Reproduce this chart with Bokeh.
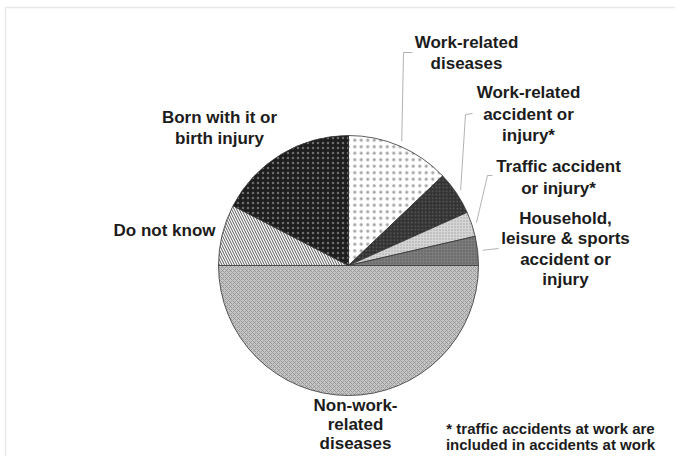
import math
from bokeh.plotting import figure
from bokeh.models import Range1d, ColumnDataSource
from bokeh.core.properties import value
from bokeh.embed import file_html
from bokeh.resources import INLINE

# ---- data (percent shares, clockwise from 12 o'clock) ----
categories = ["Work-related diseases", "Work-related accident or injury*",
              "Traffic accident or injury*", "Household, leisure & sports accident or injury",
              "Non-work-related diseases", "Do not know", "Born with it or birth injury"]
shares = [12.9, 5.4, 3.1, 3.6, 50.0, 7.6, 17.4]
label_texts = ["Work-related\ndiseases", "Work-related\naccident or\ninjury*",
               "Traffic accident\nor injury*", "Household,\nleisure & sports\naccident or\ninjury",
               "Non-work-\nrelated\ndiseases", "Do not know", "Born with it or\nbirth injury"]
footnote = "* traffic accidents at work are\nincluded in accidents at work"

# ---- styles ----
fills = ["#ffffff", "#333333", "#d6d6d6", "#7c7c7c", "#c6c6c6", "#ffffff", "#1e1e1e"]
hatches = ["dot", "dot", "dot", "dot", "diagonal_cross", "left_diagonal_line", "dot"]
hatch_colors = ["#a4a4a4", "#5e5e5e", "#a0a0a0", "#5a5a5a", "#8e8e8e", "#555555", "#6e6e6e"]
hatch_scales = [6.5, 3.5, 3, 3, 4, 5, 5]
hatch_weights = [0.2, 0.3, 0.3, 0.3, 0.8, 1.0, 0.2]

W, H = 675, 456
TEXT_DY = -6  # compensate text rendering offset
def dx(sx): return sx
def dy(sy): return H - sy

cx, cy, R = dx(348), dy(265), 130

p = figure(width=W, height=H, x_range=Range1d(0, W), y_range=Range1d(0, H),
           output_backend="svg", toolbar_location=None, min_border=0,
           x_axis_type=None, y_axis_type=None)
p.grid.visible = False
p.outline_line_color = None
p.background_fill_color = "white"
p.border_fill_color = "white"

# faint frame of the original scan
p.quad(left=[dx(5)], right=[dx(684)], top=[dy(7)], bottom=[dy(475)],
       fill_color=None, line_color="#e8e8e8", line_width=1.5)

total = sum(shares)
starts, ends, mids = [], [], []
cum = 0.0
for s in shares:
    a0 = math.pi / 2 - 2 * math.pi * cum / total
    cum += s
    a1 = math.pi / 2 - 2 * math.pi * cum / total
    starts.append(a0); ends.append(a1); mids.append((a0 + a1) / 2)

src = ColumnDataSource(dict(start=starts, end=ends, fill=fills, hatch=hatches,
                            hcol=hatch_colors, hscale=hatch_scales, hw=hatch_weights))
p.wedge(x=cx, y=cy, radius=R, start_angle="start", end_angle="end", direction="clock",
        source=src, fill_color="fill", line_color="#333333", line_width=0.8,
        hatch_pattern="hatch", hatch_color="hcol", hatch_scale="hscale", hatch_weight="hw")

# leader lines (for the four small right-hand slices)
lead_r = 135
elbows = {0: [(403, 52), (412, 52)], 1: [(465, 114), (472, 113)],
          2: [(487, 175), (492, 175)], 3: [(498, 248)]}
xs, ys = [], []
for i, pts in elbows.items():
    sx0 = cx + lead_r * math.cos(mids[i]); sy0 = cy + lead_r * math.sin(mids[i])
    xs.append([sx0] + [dx(a) for a, b in pts]); ys.append([sy0] + [dy(b) for a, b in pts])
p.multi_line(xs=xs, ys=ys, line_color="#a0a0a0", line_width=0.8)

# labels (center x, first baseline, line spacing) in picture px
label_pos = [(466, 48, 20.6), (528, 98, 21.7), (558, 172, 21.6), (565, 224, 20.3),
             (355, 411, 19.0), (164, 236, 21), (219, 123, 21.3)]
tx, ty, tt = [], [], []
for txt, (sx, sy, lh) in zip(label_texts, label_pos):
    for k, line in enumerate(txt.split("\n")):
        tx.append(dx(sx)); ty.append(dy(sy + k * lh + TEXT_DY)); tt.append(line)
p.text(x=tx, y=ty, text=tt, text_align="center", text_baseline="alphabetic",
       text_font=value("Liberation Sans"), text_font_style="bold",
       text_font_size="17px", text_color="#1c1c1c")

fx, fy, ft = [], [], []
for k, line in enumerate(footnote.split("\n")):
    fx.append(dx(550)); fy.append(dy(434 + k * 15.5 + TEXT_DY)); ft.append(line)
p.text(x=fx, y=fy, text=ft, text_align="center", text_baseline="alphabetic",
       text_font=value("Liberation Sans"), text_font_style="bold",
       text_font_size="15px", text_color="#1c1c1c")

open("out.html", "w").write(file_html(p, INLINE))
